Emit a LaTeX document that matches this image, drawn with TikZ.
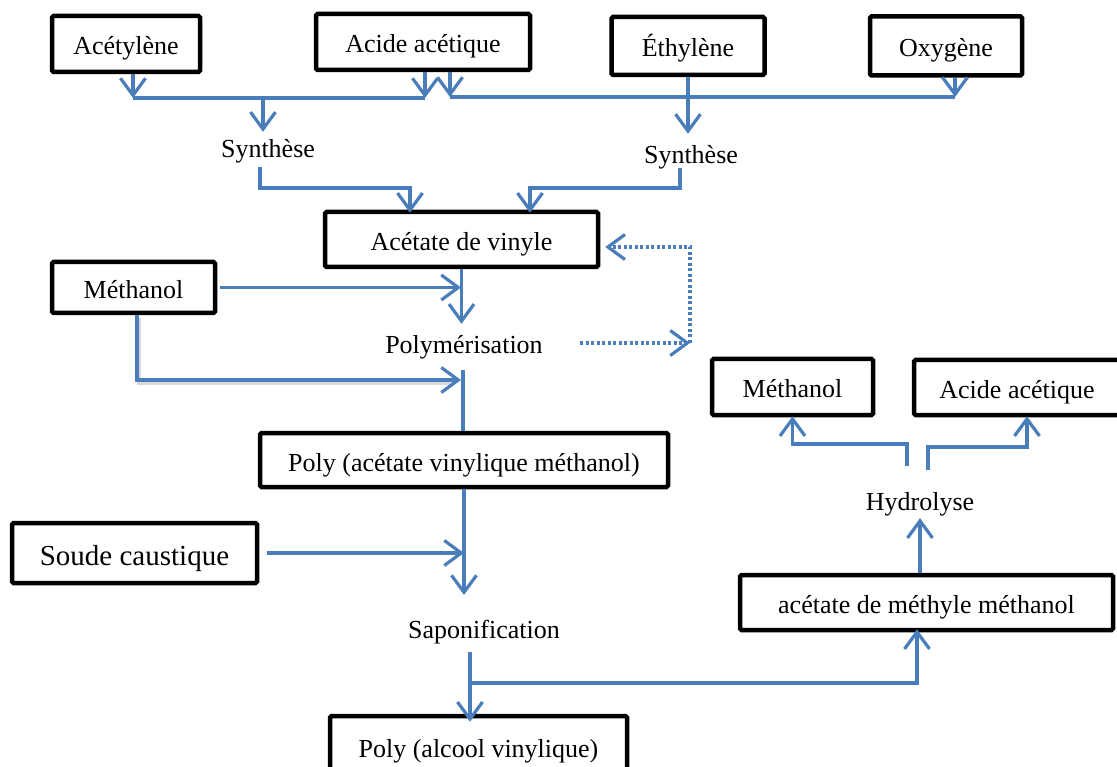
\documentclass[tikz,border=0pt]{standalone}
\usepackage{fontspec}
\setmainfont{Liberation Serif}
\usetikzlibrary{arrows.meta}
\definecolor{flow}{HTML}{4A7EBB}
\tikzset{
  box/.style={draw=black, line width=4.5pt, rounded corners=1.5pt, fill=white, inner sep=0pt,
              text height=24pt, text depth=2pt, font=\fontsize{26}{30}\selectfont},
  lbl/.style={inner sep=2pt, text height=24pt, text depth=2pt, font=\fontsize{26}{30}\selectfont},
  flowline/.style={draw=flow, line width=3.2pt},
  arr/.style={flowline, -{Straight Barb[length=17pt,width=25pt]}},
  dotarr/.style={draw=flow, line width=3.2pt, dash pattern=on 3pt off 2.5pt, -{Straight Barb[length=17pt,width=25pt]}},
}
\begin{document}
\begin{tikzpicture}[x=1pt,y=-1pt]
\useasboundingbox (0,0) rectangle (1117,767);
\fill[white] (0,0) rectangle (1117,767);
\begin{scope}
\clip (0,0) rectangle (1117,767);
% boxes
\node[box, minimum width=148pt, minimum height=56pt] (acet) at (126,44) {Acétylène};
\node[box, minimum width=214pt, minimum height=56pt] (acide) at (423,42) {Acide acétique};
\node[box, minimum width=153pt, minimum height=58pt] (ethyl) at (688,46) {Éthylène};
\node[box, minimum width=152pt, minimum height=59pt] (oxy) at (946,46) {Oxygène};
\node[lbl] (syn1) at (268,147) {Synthèse};
\node[lbl] (syn2) at (691,153) {Synthèse};
\node[box, minimum width=273pt, minimum height=55pt] (vinyl) at (461.5,239.5) {Acétate de vinyle};
\node[box, minimum width=163pt, minimum height=51pt] (meth) at (133.5,287.5) {Méthanol};
\node[lbl] (polym) at (464,343) {Polymérisation};
\node[box, minimum width=408pt, minimum height=54pt] (pav) at (464,460) {Poly (acétate vinylique méthanol)};
\node[box, minimum width=245pt, minimum height=60pt, text height=27pt, text depth=2pt, font=\fontsize{29}{32}\selectfont] (soude) at (134.5,553) {Soude caustique};
\node[lbl] (sapo) at (484,627) {Saponification};
\node[box, minimum width=297pt, minimum height=60pt] (pva) at (478.5,746) {Poly (alcool vinylique)};
\node[box, minimum width=373pt, minimum height=55pt] (amm) at (926.5,602.5) {acétate de méthyle méthanol};
\node[lbl] (hydro) at (920,499) {Hydrolyse};
\node[box, minimum width=161pt, minimum height=56pt] (meth2) at (792.5,387) {Méthanol};
\node[box, minimum width=206pt, minimum height=55pt] (acide2) at (1017,387.5) {Acide acétique};
% junction coordinates
\coordinate (jA) at (133,98);
\coordinate (jB) at (425,98);
\coordinate (jC) at (263,98);
\coordinate (jD) at (450,97);
\coordinate (jE) at (955,97);
\coordinate (s1) at (260,167);
\coordinate (s1c) at (260,188);
\coordinate (v1) at (410,188);
\coordinate (s2) at (680,168);
\coordinate (s2c) at (680,188);
\coordinate (v2) at (530,188);
\coordinate (pr) at (580,343);
\coordinate (loopc) at (690,343);
\coordinate (loopt) at (690,247);
\coordinate (mlc) at (137,380);
\coordinate (mlt) at (461,380);
\coordinate (pt) at (463,370);
\coordinate (sp) at (470,652);
\coordinate (spj) at (470,683);
\coordinate (spc) at (917,683);
\coordinate (h1) at (907,466);
\coordinate (h1c) at (907,444);
\coordinate (h2) at (928,470);
\coordinate (h2c) at (928,447);
\coordinate (h2t) at (1027,447);
% top connectors
\draw[arr] (acet.south -| jA) -- (jA);
\draw[flowline] (jA) -- (jB);
\draw[arr] (acide.south -| jB) -- (jB);
\draw[arr] (jC) -- (syn1.north -| jC);
\draw[arr] (acide.south -| jD) -- (jD);
\draw[flowline] (jD) -- (jE);
\draw[arr] (oxy.south -| jE) -- (jE);
\draw[arr] (ethyl.south) -- ([yshift=4pt]syn2.north -| ethyl.south);
\draw[arr] (s1) -- (s1c) -- (v1) -- ([yshift=-3pt]vinyl.north -| v1);
\draw[arr] (s2) -- (s2c) -- (v2) -- ([yshift=-3pt]vinyl.north -| v2);
% polymerisation
\draw[arr] ([xshift=3pt]meth.east) -- (meth.east -| mlt);
\draw[arr] (vinyl.south) -- ([yshift=4pt]vinyl.south |- polym.north);
\draw[dotarr] (pr) -- (loopc);
\draw[dotarr] (loopc) -- (loopt) -- ([xshift=5pt]vinyl.east |- loopt);
\draw[line width=3.2pt, black, opacity=0.15] ([shift={(2,3)}]meth.south -| mlc) -- ([shift={(2,3)}]mlc) -- ([shift={(-6,3)}]mlt);
\draw[arr] (meth.south -| mlc) -- (mlc) -- (mlt);
\draw[flowline] (pt) -- (pav.north -| pt);
% saponification
\draw[arr] (pav.south) -- (pav.south |- 0,595);
\draw[arr] ([xshift=8pt]soude.east) -- (soude.east -| pav.south);
\draw[arr] (sp) -- ([yshift=-8pt]pva.north -| sp);
\draw[arr] (spj) -- (spc) -- ([yshift=3pt]amm.south -| spc);
% hydrolyse
\draw[arr] (amm.north -| hydro) -- ([yshift=-4pt]hydro.south);
\draw[arr] (h1) -- (h1c) -- (h1c -| meth2.south) -- ([yshift=1pt]meth2.south);
\draw[arr] (h2) -- (h2c) -- (h2t) -- ([yshift=1pt]acide2.south -| h2t);
\end{scope}
\end{tikzpicture}
\end{document}
